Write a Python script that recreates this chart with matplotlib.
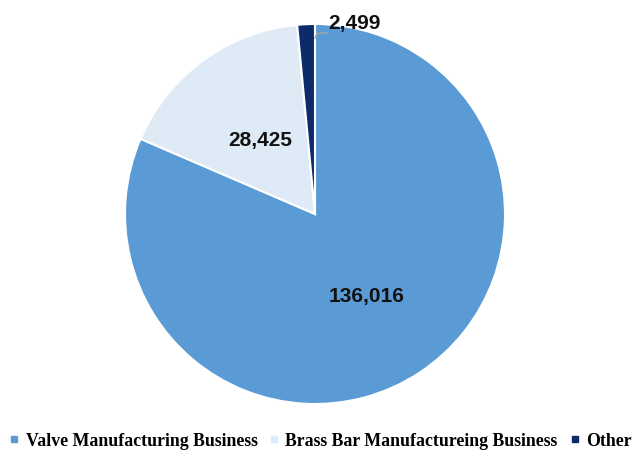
import matplotlib
matplotlib.use("Agg")
import matplotlib.pyplot as plt

categories = ["Valve Manufacturing Business", "Brass Bar Manufactureing Business", "Other"]
values = [136016, 28425, 2499]
colors = ["#5B9BD5", "#DEEBF7", "#0D2A6B"]
labels = ["136,016", "28,425", "2,499"]

fig = plt.figure(figsize=(6.4, 4.52), dpi=100)
cx, cy, r = 315, 215, 190
ax = fig.add_axes([(cx - r) / 640, (452 - cy - r) / 452, 2 * r / 640, 2 * r / 452])
wedges, _ = ax.pie(values, colors=colors, startangle=90, counterclock=False,
                   wedgeprops=dict(edgecolor="white", linewidth=1.5), radius=1)
ax.set_xlim(-1, 1)
ax.set_ylim(-1, 1)
ax.set_aspect("equal")
ax.axis("off")

lab_pos = [(0.27, -0.43), (-0.29, 0.39)]
for (x, y), t in zip(lab_pos, labels[:2]):
    ax.text(x, y, t, ha="center", va="center", fontsize=15, fontweight="bold",
            family="Liberation Sans", color="#111111")
ax.text(0.21, 1.01, labels[2], ha="center", va="center", fontsize=15,
        fontweight="bold", family="Liberation Sans", color="#111111")
ax.plot([0.0, 0.01, 0.065], [0.925, 0.95, 0.955], color="#A6A6A6", lw=1,
        clip_on=False)

handles = [plt.Line2D([], [], marker="s", linestyle="none", markersize=5,
                      markerfacecolor=c, markeredgecolor=c) for c in colors]
fig.legend(handles, categories, loc="center left", bbox_to_anchor=(9 / 640, 1 - 442 / 452),
           ncol=3, frameon=False, handlelength=0.6, handletextpad=0.33,
           columnspacing=0.65, borderpad=0, borderaxespad=0,
           prop=dict(family="Liberation Serif", weight="bold", size=12.8))

fig.savefig("out.png", dpi=100)
